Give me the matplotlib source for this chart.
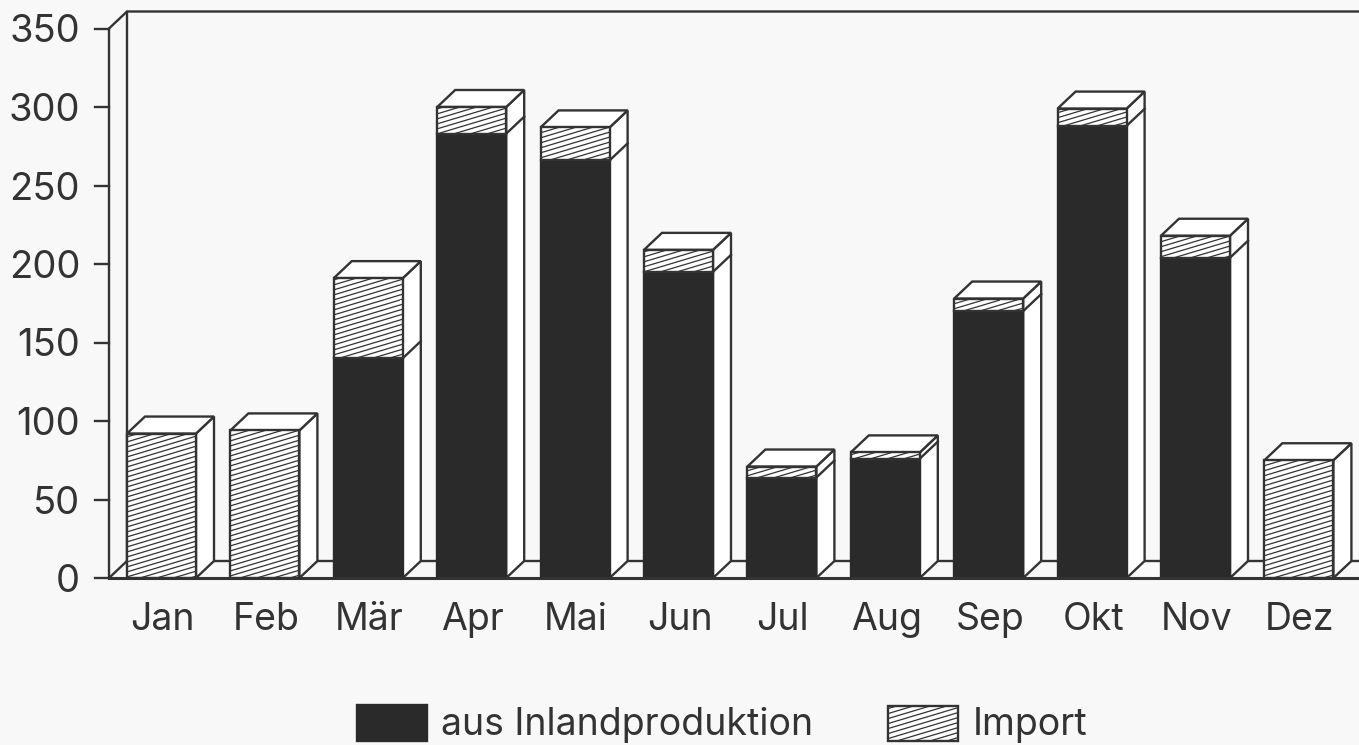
import numpy as np
import matplotlib
matplotlib.use("Agg")
import matplotlib.pyplot as plt
import matplotlib.hatch as mh
from matplotlib.patches import Polygon, Rectangle
from matplotlib.path import Path

months = ["Jan", "Feb", "Mär", "Apr", "Mai", "Jun", "Jul", "Aug", "Sep", "Okt", "Nov", "Dez"]
inland = [0, 0, 140, 283, 266, 195, 64, 76, 170, 288, 204, 0]
imports = [92, 94, 51, 17, 21, 14, 7, 4, 8, 11, 14, 75]
yticks = [0, 50, 100, 150, 200, 250, 300, 350]
legend_labels = ["aus Inlandproduktion", "Import"]

W, H = 1359, 745
DARK = "#2a2a2a"
LINE = "#333333"
BG = "#f8f8f8"
FONT = ["Inter", "Liberation Sans"]


class ShallowHatch(mh.HatchPatternBase):
    """Thin lines rising gently to the right."""

    def __init__(self, hatch, density):
        n, s = 20, 6
        self.num_lines = hatch.count("~") * n
        self.num_vertices = (n + s) * 2 if self.num_lines else 0
        self.n, self.s = n, s

    def set_vertices_and_codes(self, vertices, codes):
        k = np.arange(-self.s, self.n)
        vertices[0::2, 0] = 0
        vertices[1::2, 0] = 1
        vertices[0::2, 1] = k / self.n
        vertices[1::2, 1] = (k + self.s) / self.n
        codes[0::2] = Path.MOVETO
        codes[1::2] = Path.LINETO


mh._hatch_types.append(ShallowHatch)
plt.rcParams["hatch.linewidth"] = 0.9
plt.rcParams["hatch.color"] = "#444444"

fig = plt.figure(figsize=(W / 100, H / 100), dpi=100, facecolor=BG)
ax = fig.add_axes([0, 0, 1, 1])
ax.axis("off")
# scales: 103.4 px per month, 1.57 px per unit, y=0 at px 578
PX_X = 103.4
PX_Y = 1.57
ax.set_xlim(-161.5 / PX_X, (W - 161.5) / PX_X)
ax.set_ylim((578 - H) / PX_Y, 578 / PX_Y)
DX, DY = 18 / PX_X, 17 / PX_Y
BW = 69 / PX_X
x_front = (109 - 161.5) / PX_X
x_end = (W - 161.5) / PX_X


def lpx(x, y):
    return (x - 161.5) / PX_X, (578 - y) / PX_Y


lw = 1.7
top = yticks[-1]
# back wall and floor outline
ax.plot([x_front, x_front + DX, x_end], [top, top + DY, top + DY], color=LINE, lw=lw, zorder=1)
ax.plot([x_front + DX, x_front + DX], [DY, top + DY], color=LINE, lw=lw, zorder=1)
ax.plot([x_front, x_front], [0, top], color=LINE, lw=lw, zorder=1)
ax.plot([x_front, x_end], [0, 0], color=LINE, lw=lw + 0.5, zorder=6)
ax.plot([x_front + DX, x_end], [DY, DY], color=LINE, lw=lw, zorder=1)
ax.plot([x_front, x_front + DX], [0, DY], color=LINE, lw=lw, zorder=1)

# y ticks and labels
for t in yticks:
    ax.plot([x_front - 0.14, x_front], [t, t], color=LINE, lw=lw, zorder=2)
    ax.text(x_front - 0.28, t, str(t), ha="right", va="center_baseline", fontsize=27.5,
            family=FONT, color="#333333", zorder=3)

# bars
for i, (a, b) in enumerate(zip(inland, imports)):
    l, r = i - BW / 2, i + BW / 2
    total = a + b
    ax.add_patch(Polygon([(r, 0), (r + DX, DY), (r + DX, total + DY), (r, total)],
                         facecolor="white", edgecolor=LINE, lw=lw, zorder=3))
    ax.add_patch(Polygon([(l, total), (l + DX, total + DY), (r + DX, total + DY), (r, total)],
                         facecolor="white", edgecolor=LINE, lw=lw, zorder=3))
    if a:
        ax.plot([r, r + DX], [a, a + DY], color=LINE, lw=lw, zorder=3)
    ax.bar(i, a, BW, color=DARK, edgecolor=DARK, lw=lw, zorder=4)
    ax.bar(i, b, BW, bottom=a, facecolor="white", edgecolor=LINE, lw=lw, hatch="~", zorder=4)
    ax.text(i + 0.01, lpx(0, 630)[1], months[i], ha="center", va="baseline", fontsize=27,
            family=FONT, color="#333333", zorder=5)

# legend
ax.add_patch(Rectangle(lpx(357, 741), 70 / PX_X, 36 / PX_Y, facecolor=DARK, edgecolor=DARK, lw=lw, zorder=4))
ax.add_patch(Rectangle(lpx(888, 741), 70 / PX_X, 35 / PX_Y, facecolor="white", edgecolor=LINE, lw=lw,
                       hatch="~", zorder=4))
ax.text(*lpx(441, 735), legend_labels[0], fontsize=27, family=FONT, color="#333333",
        va="baseline", zorder=5)
ax.text(*lpx(973, 735), legend_labels[1], fontsize=27, family=FONT, color="#333333",
        va="baseline", zorder=5)

fig.savefig("out.png", dpi=100, facecolor=BG)
